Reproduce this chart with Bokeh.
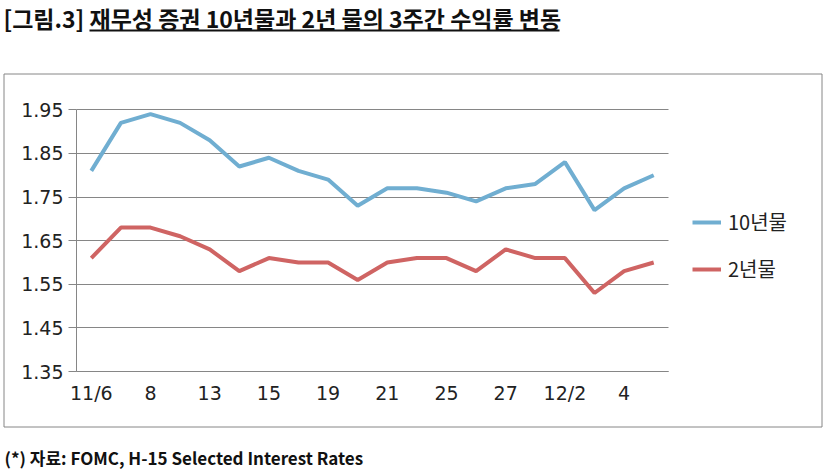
from bokeh.plotting import figure
from bokeh.models import (FixedTicker, Range1d, Label, Legend, LegendItem, LinearAxis,
                          BoxAnnotation, Grid)
from bokeh.embed import file_html
from bokeh.resources import INLINE

dates = ["11/6", "7", "8", "12", "13", "14", "15", "18", "19", "20",
         "21", "22", "25", "26", "27", "29", "12/2", "3", "4", "5"]
shown = ["11/6", "8", "13", "15", "19", "21", "25", "27", "12/2", "4"]
y10 = [1.81, 1.92, 1.94, 1.92, 1.88, 1.82, 1.84, 1.81, 1.79, 1.73,
       1.77, 1.77, 1.76, 1.74, 1.77, 1.78, 1.83, 1.72, 1.77, 1.80]
y2 = [1.61, 1.68, 1.68, 1.66, 1.63, 1.58, 1.61, 1.60, 1.60, 1.56,
      1.60, 1.61, 1.61, 1.58, 1.63, 1.61, 1.61, 1.53, 1.58, 1.60]
yticks = [1.35, 1.45, 1.55, 1.65, 1.75, 1.85, 1.95]
names = ["10년물", "2년물"]
title_text = "[그림.3] 재무성 증권 10년물과 2년 물의 3주간 수익률 변동"
source_text = "(*) 자료: FOMC, H-15 Selected Interest Rates"

FONT = "Noto Sans CJK KR"
TICKFONT = "DejaVu Sans"
GRAY = "#868686"

# canvas layout (pixels, top-left origin)
W, H = 825, 469
PA_L, PA_R, PA_T, PA_B = 76, 668, 109.3, 371     # plot area
n = len(dates)
xmin, xmax = -0.5, n - 0.5
ymin, ymax = yticks[0], yticks[-1]
xpp = (xmax - xmin) / (PA_R - PA_L)
ypp = (ymax - ymin) / (PA_B - PA_T)
x_range = Range1d(xmin - PA_L * xpp, xmax + (W - PA_R) * xpp)
y_range = Range1d(ymin - (H - PA_B) * ypp, ymax + PA_T * ypp)

p = figure(width=W, height=H, output_backend="svg", toolbar_location=None,
           x_range=x_range, y_range=y_range, min_border=0,
           x_axis_location=None, y_axis_location=None)
p.outline_line_color = None
p.grid.visible = False


def sy(cy):  # canvas y (from top) -> screen units from frame bottom
    return H - cy


# chart border box
p.add_layout(BoxAnnotation(left=3.5, right=821.5, top=sy(73.5), bottom=sy(426.5),
                           left_units="screen", right_units="screen",
                           top_units="screen", bottom_units="screen",
                           fill_alpha=0, line_color=GRAY, line_alpha=1, line_width=1))

# horizontal gridlines limited to the plot area
if "cross_bounds" in Grid.properties():
    g = Grid(dimension=1, ticker=FixedTicker(ticks=yticks), grid_line_color=GRAY,
             grid_line_width=1, cross_bounds=(xmin, xmax))
    p.add_layout(g)
else:
    p.segment(x0=[xmin] * len(yticks), x1=[xmax] * len(yticks), y0=yticks, y1=yticks,
              line_color=GRAY, line_width=1)

xs = list(range(n))
r1 = p.line(xs, y10, line_color="#70AED1", line_width=4)
r2 = p.line(xs, y2, line_color="#CF6463", line_width=4)

xaxis = LinearAxis(fixed_location=ymin, bounds=(xmin, xmax),
                   ticker=FixedTicker(ticks=[i for i, d in enumerate(dates) if d in shown]),
                   major_label_overrides={i: d for i, d in enumerate(dates)},
                   major_tick_line_color=None, minor_tick_line_color=None,
                   axis_line_color=GRAY, major_label_text_font=TICKFONT,
                   major_label_text_font_size="19px", major_label_text_color="#222222",
                   major_label_standoff=4)
p.add_layout(xaxis, "below")

yaxis = LinearAxis(fixed_location=xmin, bounds=(ymin, ymax),
                   ticker=FixedTicker(ticks=yticks),
                   major_label_overrides={t: f"{t:.2f}" for t in yticks},
                   major_tick_out=8, major_tick_in=0, major_tick_line_color=GRAY,
                   minor_tick_line_color=None, axis_line_color=GRAY,
                   major_label_text_font=TICKFONT, major_label_text_font_size="19px",
                   major_label_text_color="#222222", major_label_standoff=5)
p.add_layout(yaxis, "left")

legend = Legend(items=[LegendItem(label=names[0], renderers=[r1]),
                       LegendItem(label=names[1], renderers=[r2])],
                location=(692, sy(283)), margin=0, padding=0, spacing=18,
                glyph_width=29, glyph_height=20, label_height=20, label_standoff=7,
                border_line_color=None, background_fill_alpha=0,
                label_text_font=FONT, label_text_font_size="20px", label_text_color="#222222")
p.add_layout(legend)

p.add_layout(Label(x=3, y=sy(17), x_units="screen", y_units="screen", text=title_text,
                   text_font=FONT, text_font_size="23px", text_font_style="bold",
                   text_baseline="middle", text_color="#111111"))
# title underline
p.add_layout(BoxAnnotation(left=89, right=559, top=sy(29), bottom=sy(31),
                           left_units="screen", right_units="screen",
                           top_units="screen", bottom_units="screen",
                           fill_color="#111111", fill_alpha=1, line_color=None))

p.add_layout(Label(x=4, y=sy(457), x_units="screen", y_units="screen", text=source_text,
                   text_font=FONT, text_font_size="17px", text_font_style="bold",
                   text_baseline="middle", text_color="#111111"))

open("out.html", "w").write(file_html(p, INLINE))
